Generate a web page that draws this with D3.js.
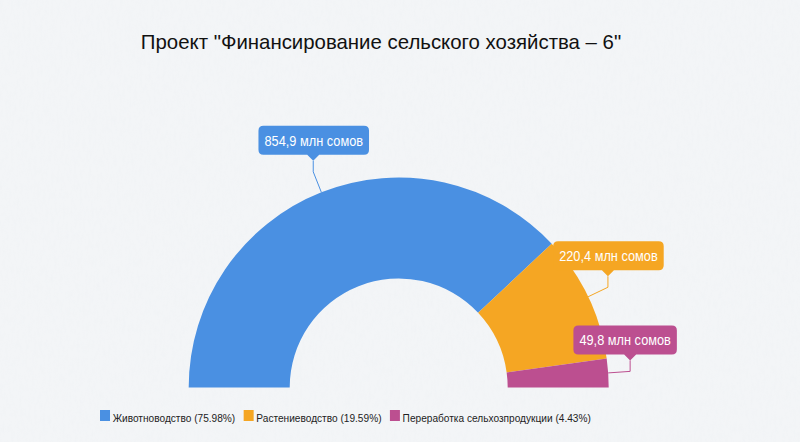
<!DOCTYPE html>
<html>
<head>
<meta charset="utf-8">
<script src="https://cdn.jsdelivr.net/npm/d3@7/dist/d3.min.js"></script>
<style>
  html, body { margin: 0; padding: 0; background: #f3f5f7; }
  svg { display: block; font-family: "Liberation Sans", Arial, sans-serif; }
</style>
</head>
<body>
<svg id="chart" width="800" height="442"></svg>
<script>
const titleText = 'Проект "Финансирование сельского хозяйства – 6"';
const categories = ["Животноводство", "Растениеводство", "Переработка сельхозпродукции"];
const values = [854.9, 220.4, 49.8];
const valueLabels = ["854,9 млн сомов", "220,4 млн сомов", "49,8 млн сомов"];
const percentLabels = ["75.98%", "19.59%", "4.43%"];
const colors = ["#4a90e2", "#f5a623", "#bc4f90"];

const W = 800, H = 442;
const cx = 398.7, cy = 387.5, rOuter = 210, rInner = 109;
const labelDx = [0.5, 0.5, -5];

const svg = d3.select("#chart");

// subtle paper texture
const defs = svg.append("defs");
const f = defs.append("filter").attr("id", "paper").attr("x", 0).attr("y", 0).attr("width", "100%").attr("height", "100%");
f.append("feTurbulence").attr("type", "fractalNoise").attr("baseFrequency", "0.35 0.12").attr("numOctaves", 3).attr("seed", 4).attr("result", "n");
f.append("feColorMatrix").attr("in", "n").attr("type", "matrix")
  .attr("values", "0 0 0 0 0.80  0 0 0 0 0.83  0 0 0 0 0.86  0 0 0 -0.9 0.55");
svg.append("rect").attr("width", W).attr("height", H).attr("fill", "#f3f5f7");
svg.append("rect").attr("width", W).attr("height", H).attr("filter", "url(#paper)").attr("opacity", 0.35);

svg.append("text")
  .attr("x", 381).attr("y", 49)
  .attr("text-anchor", "middle")
  .attr("font-size", 20.4).attr("fill", "#111")
  .text(titleText);

const pie = d3.pie().sort(null).startAngle(-Math.PI / 2).endAngle(Math.PI / 2);
const arcs = pie(values);
const arc = d3.arc().innerRadius(rInner).outerRadius(rOuter);

const g = svg.append("g").attr("transform", `translate(${cx},${cy})`);
g.selectAll("path.slice").data(arcs).enter().append("path")
  .attr("class", "slice")
  .attr("d", arc)
  .attr("fill", (d, i) => colors[i]);

// labels with leader lines
const bendR = 232, stem = 11, ptrH = 6, ptrW = 6, boxH = 29, pad = 6, rr = 5;
arcs.forEach((d, i) => {
  const a = (d.startAngle + d.endAngle) / 2;
  const x0 = rOuter * Math.sin(a), y0 = -rOuter * Math.cos(a);
  const x1 = bendR * Math.sin(a), y1 = -bendR * Math.cos(a);
  const tipY = y1 - stem;
  g.append("polyline")
    .attr("points", `${x0},${y0} ${x1},${y1} ${x1},${tipY}`)
    .attr("fill", "none").attr("stroke", colors[i]).attr("stroke-width", 1);
  const lab = g.append("g").attr("transform", `translate(${x1},${tipY})`);
  const t = lab.append("text")
    .attr("font-size", 14.5).attr("fill", "#fff")
    .attr("text-anchor", "middle")
    .attr("x", labelDx[i]).attr("y", -ptrH - 9)
    .text(valueLabels[i]);
  const tw = t.node().getComputedTextLength() * 0.88;
  t.attr("textLength", tw).attr("lengthAdjust", "spacingAndGlyphs");
  const bw = tw + pad * 2;
  const L = labelDx[i] - bw / 2, R = labelDx[i] + bw / 2;
  const top = -ptrH - boxH, bot = -ptrH;
  lab.insert("path", "text")
    .attr("d", `M${L + rr},${top} H${R - rr} Q${R},${top} ${R},${top + rr} V${bot - rr} Q${R},${bot} ${R - rr},${bot} H${ptrW} L0,0 L${-ptrW},${bot} H${L + rr} Q${L},${bot} ${L},${bot - rr} V${top + rr} Q${L},${top} ${L + rr},${top} Z`)
    .attr("fill", colors[i]);
});

// legend
const legend = svg.append("g").attr("transform", "translate(100,410)");
let lx = 0;
categories.forEach((c, i) => {
  const item = legend.append("g").attr("transform", `translate(${lx},0)`);
  item.append("rect").attr("width", 10).attr("height", 11).attr("fill", colors[i]);
  const t = item.append("text").attr("x", 12.7).attr("y", 11.6)
    .attr("font-size", 11.5).attr("fill", "#222")
    .text(`${c} (${percentLabels[i]})`);
  const tw = t.node().getComputedTextLength() * 0.88;
  t.attr("textLength", tw).attr("lengthAdjust", "spacingAndGlyphs");
  lx += 12.7 + tw + 8.4;
});
</script>
</body>
</html>
